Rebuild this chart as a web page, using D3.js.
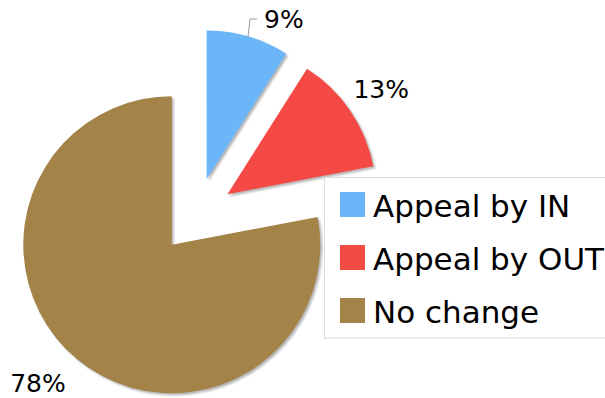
<!DOCTYPE html>
<html>
<head>
<meta charset="utf-8">
<script src="https://cdn.jsdelivr.net/npm/d3@7"></script>
<style>
  html, body { margin: 0; padding: 0; background: #fff; }
  svg { display: block; font-family: Verdana, "DejaVu Sans", sans-serif; }
</style>
</head>
<body>
<svg id="chart" width="605" height="398"></svg>
<script>
// Outcome shares (percent)
const categories = ["Appeal by IN", "Appeal by OUT", "No change"];
const shares = [9, 13, 78];
const colors = ["#6bb6f9", "#f44a44", "#a38347"];

const W = 605, H = 398;
const cx = 196, cy = 215.5;
const radius = 148.5;
const explode = 38;
const labelR = 186;

const svg = d3.select("#chart");

const defs = svg.append("defs");
const shadow = defs.append("filter").attr("id", "sliceShadow")
  .attr("x", "-10%").attr("y", "-10%").attr("width", "120%").attr("height", "120%");
shadow.append("feDropShadow")
  .attr("dx", 2).attr("dy", 2).attr("stdDeviation", 0.8)
  .attr("flood-color", "#777").attr("flood-opacity", 0.55);

const pie = d3.pie().sort(null).value(d => d.value);
const arcs = pie(categories.map((c, i) => ({ name: c, value: shares[i], color: colors[i] })));
const arc = d3.arc().innerRadius(0).outerRadius(radius);

const dir = a => [Math.sin(a), -Math.cos(a)];

const g = svg.append("g").attr("transform", `translate(${cx},${cy})`);

const slices = g.selectAll("g.slice").data(arcs).join("g")
  .attr("class", "slice")
  .attr("transform", d => {
    const m = (d.startAngle + d.endAngle) / 2;
    const [ux, uy] = dir(m);
    return `translate(${ux * explode},${uy * explode})`;
  });

slices.append("path")
  .attr("d", arc)
  .attr("fill", d => d.data.color)
  .attr("filter", "url(#sliceShadow)");

// Percentage labels, kept inside the drawing area
const fontPct = 25;
const labelLayer = svg.append("g");
arcs.forEach(d => {
  const m = (d.startAngle + d.endAngle) / 2;
  const [ux, uy] = dir(m);
  const ax = cx + ux * explode, ay = cy + uy * explode;
  let lx = ax + ux * labelR, ly = ay + uy * labelR;
  const txt = d.data.value + "%";
  const t = labelLayer.append("text")
    .attr("font-size", fontPct)
    .attr("fill", "#000")
    .attr("dominant-baseline", "central")
    .text(txt);
  const minY = fontPct * 0.76;
  const maxY = H - fontPct * 0.6;
  if (ly < minY) {
    // pulled down to fit: tie it to the slice with a short leader
    ly = minY;
    const mx = ax + ux * radius, my = ay + uy * radius;
    labelLayer.append("polyline")
      .attr("points", [[mx, my], [mx + 2, ly], [mx + 9, ly]].map(p => p.join(",")).join(" "))
      .attr("fill", "none").attr("stroke", "#999").attr("stroke-width", 1);
    t.attr("x", mx + 16).attr("y", ly).attr("text-anchor", "start");
  } else {
    if (ly > maxY) {
      // pushed up to fit: slide outward along the same side
      lx += Math.sign(ux) * (ly - maxY) * 3;
      ly = maxY;
    }
    t.attr("x", lx).attr("y", ly).attr("text-anchor", "middle");
  }
});

// Legend
const legend = svg.append("g");
legend.append("rect")
  .attr("x", 324.5).attr("y", 177.5)
  .attr("width", 320).attr("height", 160.5)
  .attr("fill", "#fff").attr("stroke", "#dcdcdc").attr("stroke-width", 1);

const rowY = d3.scalePoint().domain(categories).range([192, 298]);
const items = legend.selectAll("g.item").data(categories).join("g").attr("class", "item");
items.append("rect")
  .attr("x", 340).attr("y", d => rowY(d))
  .attr("width", 25).attr("height", 25)
  .attr("fill", (d, i) => colors[i]);
items.append("text")
  .attr("x", 373).attr("y", d => rowY(d) + 25)
  .attr("font-size", 31)
  .attr("fill", "#000")
  .text(d => d);
</script>
</body>
</html>
